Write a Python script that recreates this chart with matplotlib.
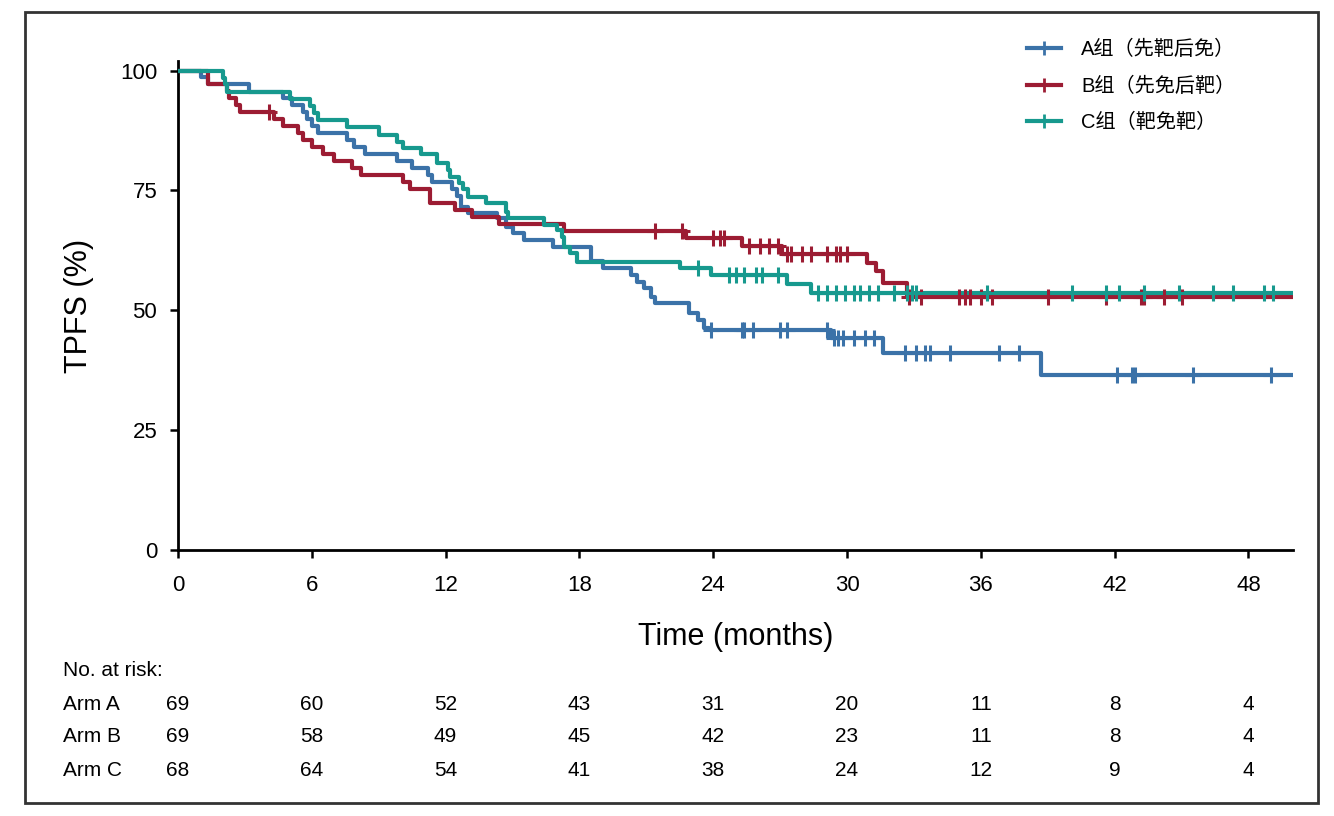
import matplotlib
matplotlib.use("Agg")
import matplotlib.pyplot as plt
from matplotlib.lines import Line2D
from matplotlib.patches import Rectangle
import numpy as np

plt.rcParams['font.family'] = ['Liberation Sans', 'Noto Sans CJK SC', 'DejaVu Sans']

# Data
arm_names = ['A组（先靶后免）', 'B组（先免后靶）', 'C组（靶免靶）']
colors = ['#3b72a8', '#9c1c33', '#17998e']

times_a = [0, 1.05, 1.35, 3.2, 4.7, 5.1, 5.6, 5.8, 6.0, 6.3, 7.6, 7.9, 8.4, 9.8, 10.5,
           11.2, 11.4, 12.3, 12.5, 12.7, 13.0, 14.3, 14.7, 15.0, 15.5, 16.8, 18.5, 19.05,
           20.3, 20.6, 20.9, 21.2, 21.4, 22.9, 23.3, 23.6, 23.8, 29.3, 31.6, 38.7]
surv_a = [100, 98.6, 97.1, 95.6, 94.2, 92.8, 91.3, 89.9, 88.4, 87.0, 85.5, 84.1, 82.6, 81.2, 79.7,
          78.3, 76.8, 75.4, 73.9, 71.6, 70.3, 69.3, 67.4, 66.2, 64.7, 63.3, 60.2, 58.8,
          57.3, 56.0, 54.7, 52.8, 51.5, 49.5, 48.0, 46.3, 45.8, 44.2, 41.1, 36.5]
censor_a = [23.9, 25.3, 25.4, 25.8, 27.0, 27.3, 29.1, 29.4, 29.6, 29.8, 30.3, 30.8, 31.2,
            32.6, 33.1, 33.5, 33.7, 34.6, 36.8, 37.7, 42.1, 42.8, 42.9, 45.5, 49.0]

times_b = [0, 1.35, 2.2, 2.3, 2.6, 2.8, 4.3, 4.7, 5.4, 5.6, 6.0, 6.5, 7.0, 7.8, 8.2,
           10.1, 10.4, 11.3, 12.4, 13.2, 14.4, 17.3, 22.8, 25.3, 27.1, 30.9, 31.3, 31.6, 32.7]
surv_b = [100, 97.1, 95.7, 94.2, 92.8, 91.3, 89.9, 88.4, 87.0, 85.5, 84.1, 82.6, 81.2, 79.7, 78.3,
          76.8, 75.4, 72.3, 70.9, 69.5, 68.0, 66.6, 65.0, 63.4, 61.7, 59.9, 58.1, 55.7, 52.7]
censor_b = [4.1, 21.4, 22.6, 24.0, 24.3, 24.5, 25.6, 26.1, 26.5, 26.9, 27.3, 27.5, 28.0, 28.4,
            29.1, 29.5, 29.7, 30.0, 32.8, 33.3, 35.0, 35.3, 35.5, 36.0, 36.5, 39.0, 41.6,
            43.2, 43.3, 44.2, 45.0]

times_c = [0, 2.0, 2.1, 2.2, 5.0, 5.9, 6.1, 6.3, 7.6, 9.0, 9.8, 10.1, 10.9, 11.6, 12.1, 12.2,
           12.6, 12.8, 13.0, 13.8, 14.7, 14.8, 16.4, 17.0, 17.2, 17.3, 17.6, 17.9, 22.5, 23.9,
           27.3, 28.4]
surv_c = [100, 98.5, 97.1, 95.6, 94.1, 92.6, 91.2, 89.7, 88.3, 86.6, 85.2, 83.9, 82.5, 80.8, 79.3, 77.9,
          76.6, 75.2, 73.7, 72.4, 70.6, 69.3, 67.8, 66.8, 65.3, 63.3, 62.0, 60.1, 58.9, 57.3,
          55.5, 53.7]
censor_c = [23.3, 24.7, 25.0, 25.4, 25.9, 26.2, 26.9, 28.7, 29.1, 29.5, 29.9, 30.3, 30.6, 31.0,
            31.4, 32.1, 32.7, 32.9, 33.1, 36.3, 40.1, 41.6, 42.2, 43.3, 44.9, 46.4, 47.3,
            48.7, 49.1]

risk_times = [0, 6, 12, 18, 24, 30, 36, 42, 48]
risk_labels = ['Arm A', 'Arm B', 'Arm C']
risk_a = [69, 60, 52, 43, 31, 20, 11, 8, 4]
risk_b = [69, 58, 49, 45, 42, 23, 11, 8, 4]
risk_c = [68, 64, 54, 41, 38, 24, 12, 9, 4]

x_max = 50

fig = plt.figure(figsize=(13.34, 8.16), dpi=100)
ax = fig.add_axes([178 / 1334, 1 - 550 / 816, (1293 - 178) / 1334, (550 - 61) / 816])

arms = [(times_a, surv_a, censor_a), (times_b, surv_b, censor_b), (times_c, surv_c, censor_c)]
for (t, s, cens), col in zip(arms, colors):
    ax.step(t + [x_max], s + [s[-1]], where='post', color=col, lw=3, zorder=3)
    idx = np.searchsorted(t, cens, side='right') - 1
    ax.plot(cens, np.array(s)[idx], ls='none', marker='+', ms=11, mew=2.2, color=col, zorder=4)

ax.set_xlim(0, x_max)
ax.set_ylim(0, 102)
ax.set_xticks(risk_times)
ax.set_yticks([0, 25, 50, 75, 100])
ax.tick_params(axis='both', labelsize=16, width=1.8, length=6, direction='out', color='black', pad=9)
ax.tick_params(axis='x', pad=12)
for side in ['top', 'right']:
    ax.spines[side].set_visible(False)
for side in ['left', 'bottom']:
    ax.spines[side].set_linewidth(2)

ax.set_ylabel('TPFS (%)', fontsize=22)
ax.yaxis.set_label_coords(-0.075, 0.5)
ax.set_xlabel('Time (months)', fontsize=22)
ax.xaxis.set_label_coords(0.5, -0.148)

# Legend
handles = [Line2D([0], [0], color=c, lw=3, marker='+', ms=10, mew=2) for c in colors]
ax.legend(handles, arm_names, loc='upper left', bbox_to_anchor=(0.745, 1.08), frameon=False,
          fontsize=14.5, handlelength=1.7, labelspacing=0.85, handletextpad=1.0)

# Number at risk table
fig.text(63 / 1334, 1 - 670 / 816, 'No. at risk:', fontsize=15, va='center', ha='left')
trans = ax.get_xaxis_transform()
for row, (lab, vals) in enumerate(zip(risk_labels, [risk_a, risk_b, risk_c])):
    ypix = [705, 737, 770][row]
    fig.text(63 / 1334, 1 - ypix / 816, lab, fontsize=15, va='center', ha='left')
    for t, v in zip(risk_times, vals):
        ax.text(t, (550 - ypix) / 489, str(v), transform=trans, fontsize=15,
                ha='center', va='center', clip_on=False)

# Outer frame
fig.patches.append(Rectangle((25 / 1334, 1 - 803 / 816), (1318 - 25) / 1334, (803 - 12) / 816,
                             transform=fig.transFigure, fill=False, lw=2, edgecolor='#333333'))

fig.savefig('out.png', dpi=100)
